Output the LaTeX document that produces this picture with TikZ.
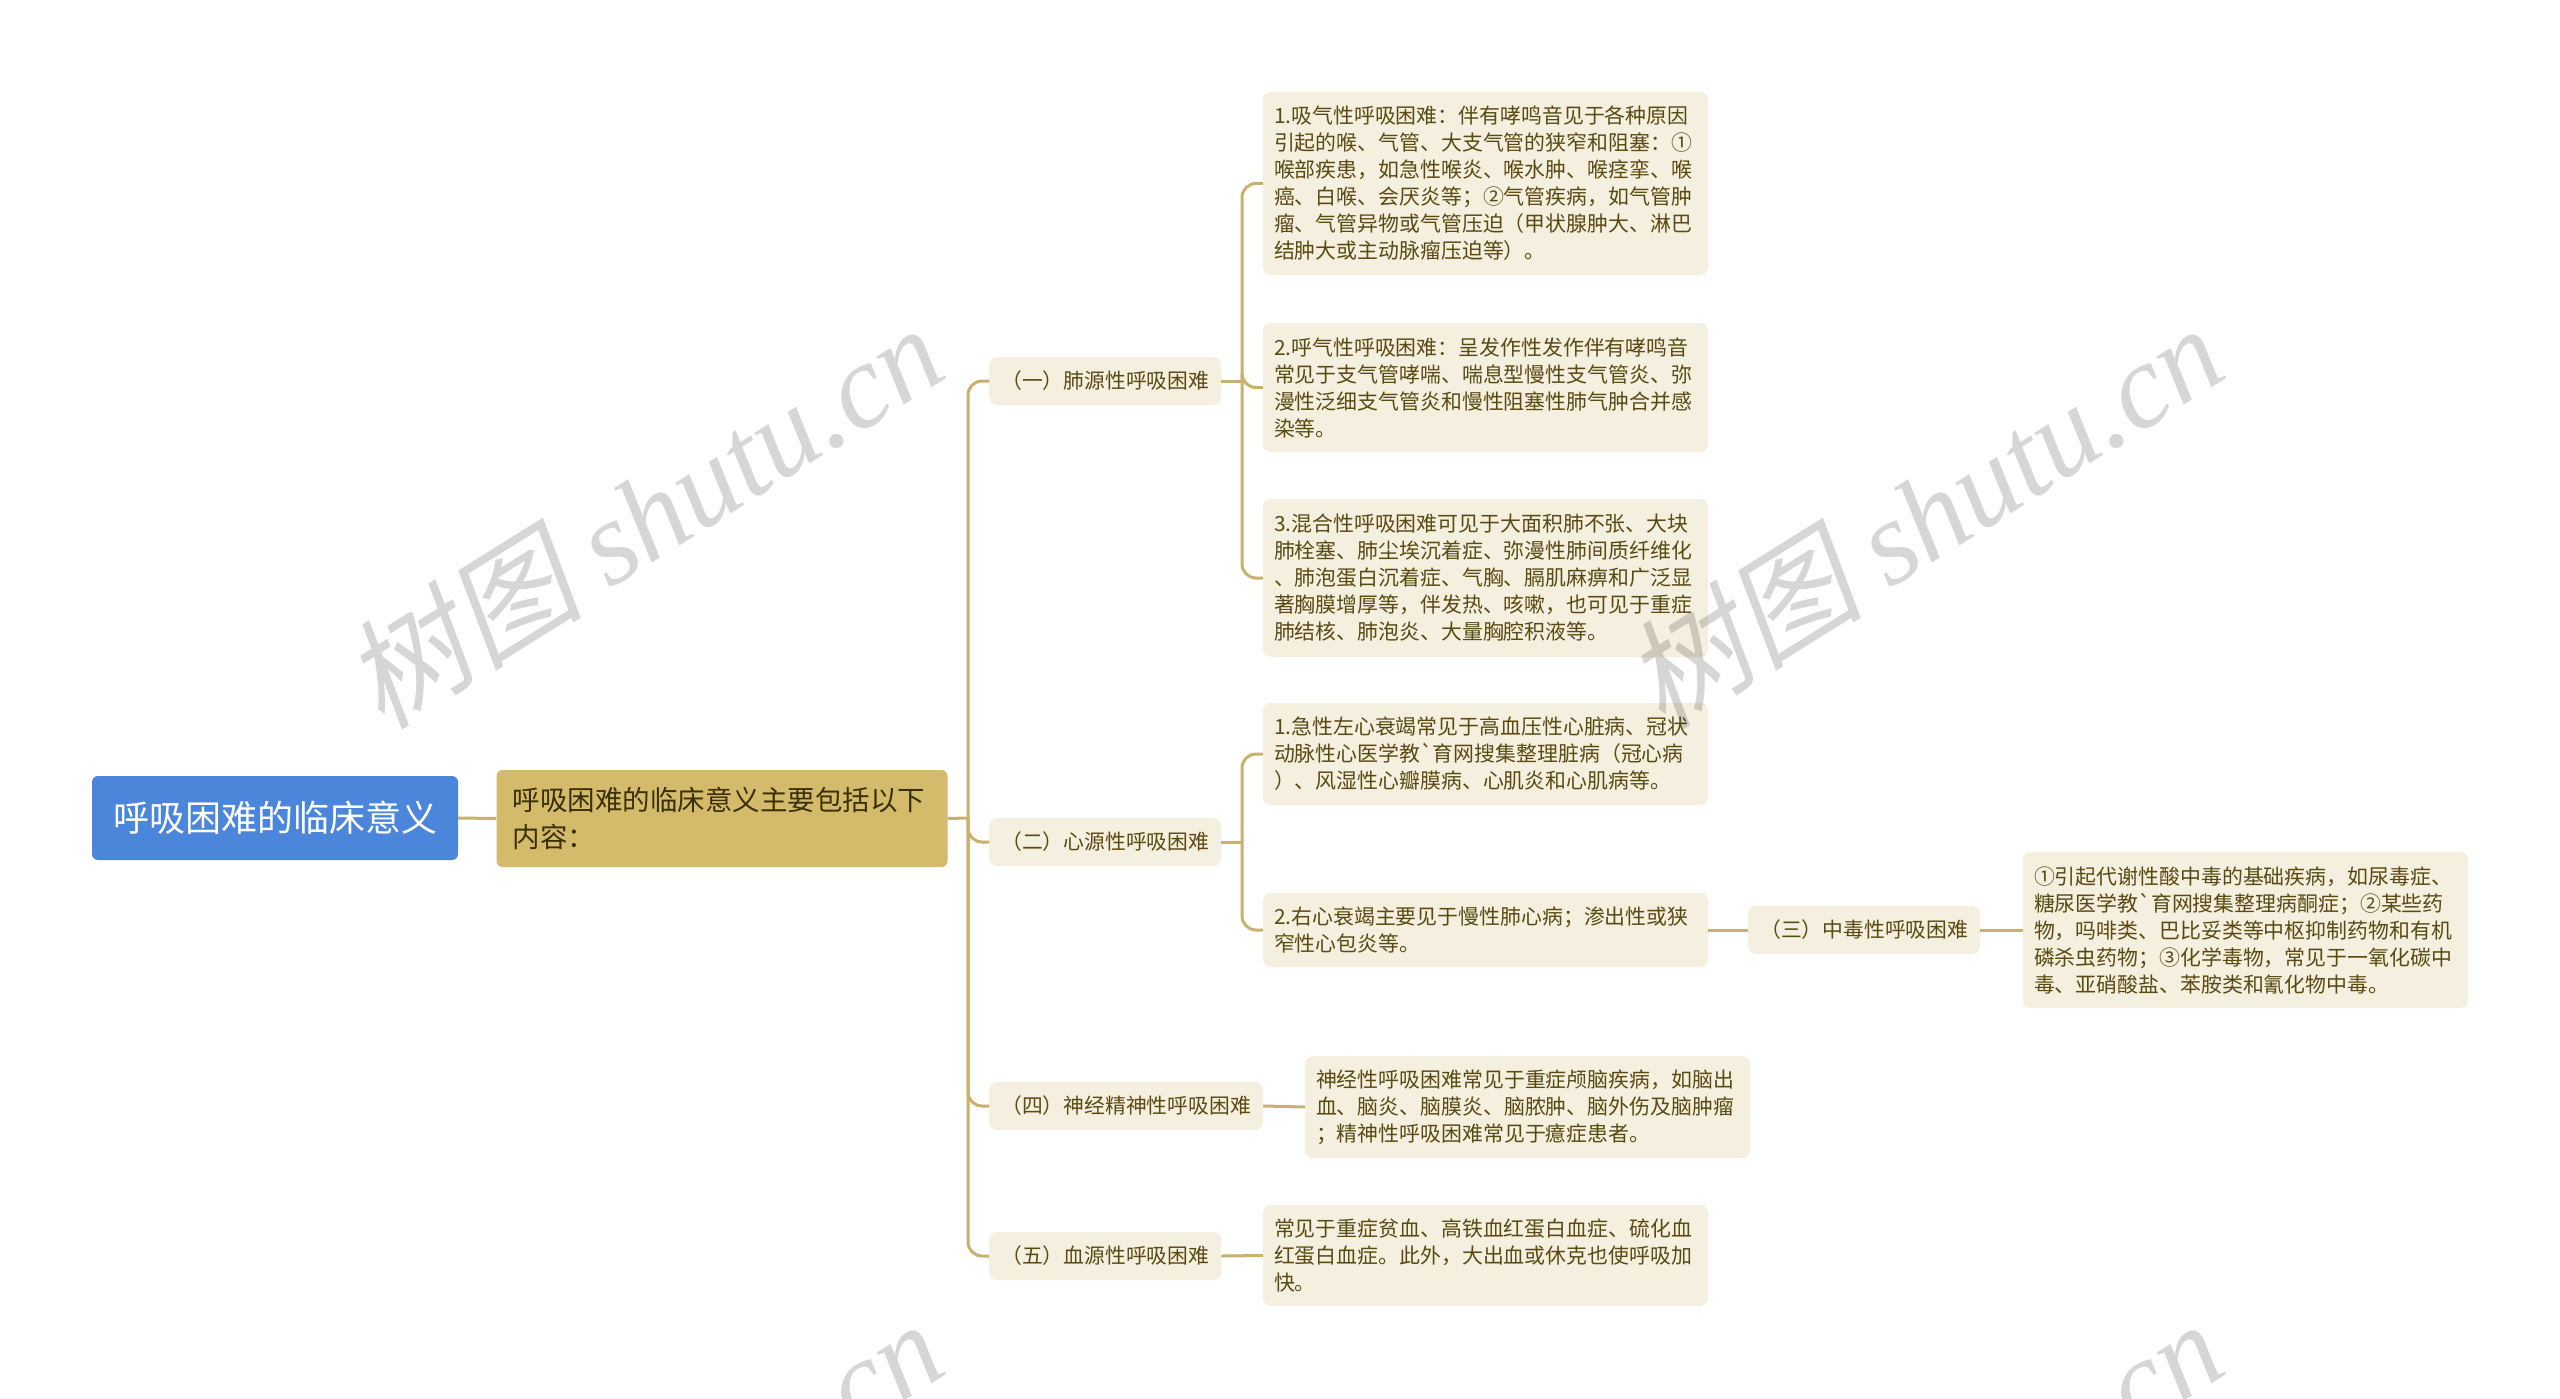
\documentclass[tikz,border=0pt]{standalone}
\usepackage{fontspec}
\setmainfont{Noto Sans CJK SC}[Ligatures=TeXOff]
\newfontfamily\wmlatin{Liberation Serif}[Ligatures=TeXOff]
\newfontfamily\wmcjk{Noto Sans CJK SC}[FakeSlant=0.2]
\definecolor{rootblue}{HTML}{4B86DB}
\definecolor{maingold}{HTML}{D4BB6B}
\definecolor{maintext}{HTML}{3A2F05}
\definecolor{leaffill}{HTML}{F4EFDE}
\definecolor{leaftext}{HTML}{5A4A12}
\definecolor{linegold}{HTML}{C9B16B}
\tikzset{
  conn/.style={draw=linegold, line width=3pt, rounded corners=14pt},
  rootbox/.style={fill=rootblue, rounded corners=6pt, text=white,
    font=\fontsize{36}{44}\selectfont, minimum width=366pt, minimum height=84pt, inner sep=0pt},
  mainbox/.style={fill=maingold, rounded corners=6pt, text=maintext,
    font=\fontsize{27.5}{37}\selectfont, text width=419pt, align=left,
    minimum height=97pt, inner xsep=16pt, inner ysep=0pt},
  catbox/.style={fill=leaffill, rounded corners=8pt, text=leaftext,
    font=\fontsize{20.8}{26}\selectfont, minimum height=48pt, inner xsep=12pt, inner ysep=0pt},
  leafbox/.style={fill=leaffill, rounded corners=8pt, text=leaftext,
    font=\fontsize{20.9}{27}\selectfont, text width=423pt, align=left,
    inner xsep=11pt, inner ysep=0pt},
  wm/.style={text=black, text opacity=0.16, rotate=32, inner sep=0pt}
}
\begin{document}
\begin{tikzpicture}[x=1pt,y=-1pt]
\useasboundingbox (0,0) rectangle (2560,1399);
\fill[white] (0,0) rectangle (2560,1399);

% nodes
\node[rootbox] (root) at (275,818) {呼吸困难的临床意义};
\node[mainbox] (main) at (722,818.5) {呼吸困难的临床意义主要包括以下\\内容：};

\node[catbox, anchor=west] (c1) at (989,381) {（一）肺源性呼吸困难};
\node[catbox, anchor=west] (c2) at (989,842) {（二）心源性呼吸困难};
\node[catbox, anchor=west] (c4) at (989,1106) {（四）神经精神性呼吸困难};
\node[catbox, anchor=west] (c5) at (989,1256) {（五）血源性呼吸困难};

\node[leafbox, minimum height=183pt] (l1a) at (1485.5,183.5) {1.吸气性呼吸困难：伴有哮鸣音见于各种原因\\引起的喉、气管、大支气管的狭窄和阻塞：①\\喉部疾患，如急性喉炎、喉水肿、喉痉挛、喉\\癌、白喉、会厌炎等；②气管疾病，如气管肿\\瘤、气管异物或气管压迫（甲状腺肿大、淋巴\\结肿大或主动脉瘤压迫等）。};
\node[leafbox, minimum height=129pt] (l1b) at (1485.5,387.5) {2.呼气性呼吸困难：呈发作性发作伴有哮鸣音\\常见于支气管哮喘、喘息型慢性支气管炎、弥\\漫性泛细支气管炎和慢性阻塞性肺气肿合并感\\染等。};
\node[leafbox, minimum height=158pt] (l1c) at (1485.5,578) {3.混合性呼吸困难可见于大面积肺不张、大块\\肺栓塞、肺尘埃沉着症、弥漫性肺间质纤维化\\、肺泡蛋白沉着症、气胸、膈肌麻痹和广泛显\\著胸膜增厚等，伴发热、咳嗽，也可见于重症\\肺结核、肺泡炎、大量胸腔积液等。};

\node[leafbox, minimum height=102pt] (l2a) at (1485.5,754) {1.急性左心衰竭常见于高血压性心脏病、冠状\\动脉性心医学教`育网搜集整理脏病（冠心病\\）、风湿性心瓣膜病、心肌炎和心肌病等。};
\node[leafbox, minimum height=74pt] (l2b) at (1485.5,930) {2.右心衰竭主要见于慢性肺心病；渗出性或狭\\窄性心包炎等。};

\node[catbox, anchor=west] (c3) at (1748,930) {（三）中毒性呼吸困难};
\node[leafbox, minimum height=156pt] (l3) at (2245.5,930) {①引起代谢性酸中毒的基础疾病，如尿毒症、\\糖尿医学教`育网搜集整理病酮症；②某些药\\物，吗啡类、巴比妥类等中枢抑制药物和有机\\磷杀虫药物；③化学毒物，常见于一氧化碳中\\毒、亚硝酸盐、苯胺类和氰化物中毒。};

\node[leafbox, minimum height=102pt] (l4) at (1527.5,1107) {神经性呼吸困难常见于重症颅脑疾病，如脑出\\血、脑炎、脑膜炎、脑脓肿、脑外伤及脑肿瘤\\；精神性呼吸困难常见于癔症患者。};
\node[leafbox, minimum height=101pt] (l5) at (1485.5,1255.5) {常见于重症贫血、高铁血红蛋白血症、硫化血\\红蛋白血症。此外，大出血或休克也使呼吸加\\快。};

% connectors
\draw[conn] (root.east) -- (main.west);
\coordinate (t0) at (968,818);
\draw[conn] (main.east) -- (t0);
\foreach \c in {c1,c2,c4,c5} \draw[conn] (t0) |- (\c.west);

\coordinate (t1) at (1242,381);
\draw[conn] (c1.east) -- (t1);
\foreach \c in {l1a,l1b,l1c} \draw[conn] (t1) |- (\c.west);

\coordinate (t2) at (1242,842);
\draw[conn] (c2.east) -- (t2);
\foreach \c in {l2a,l2b} \draw[conn] (t2) |- (\c.west);

\draw[conn] (l2b.east) -- (c3.west);
\draw[conn] (c3.east) -- (l3.west);
\draw[conn] (c4.east) -- (l4.west);
\draw[conn] (c5.east) -- (l5.west);

% watermarks
\begin{scope}
\clip (0,0) rectangle (2560,1399);
\foreach \p/\n in {{(643,515)}/wa,{(1923,515)}/wb,{(643,1511)}/wc,{(1923,1511)}/wd}
  \node[wm] (\n) at \p {\fontsize{120}{128}\selectfont\wmcjk 树图 \wmlatin\itshape shutu.cn};
\end{scope}
\end{tikzpicture}
\end{document}
